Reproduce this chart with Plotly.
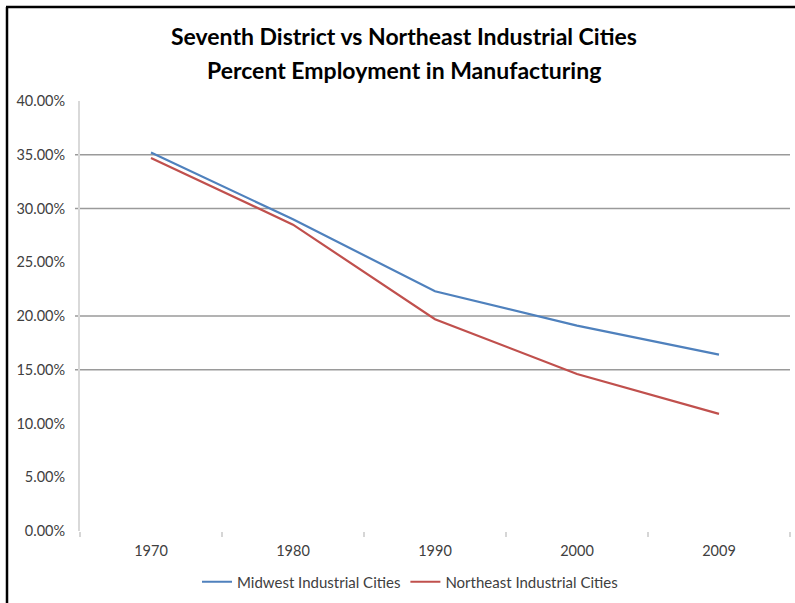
import plotly.graph_objects as go

# Census decades shown on the category axis
years = ["1970", "1980", "1990", "2000", "2009"]

# Share of employment in manufacturing (fraction of total)
midwest = [0.352, 0.290, 0.223, 0.191, 0.164]
northeast = [0.347, 0.285, 0.197, 0.146, 0.109]

# Y-axis labels
y_ticks = [0.0, 0.05, 0.10, 0.15, 0.20, 0.25, 0.30, 0.35, 0.40]
y_tick_text = ["0.00%", "5.00%", "10.00%", "15.00%", "20.00%",
               "25.00%", "30.00%", "35.00%", "40.00%"]

# Horizontal rules drawn across the plot
grid_levels = [0.15, 0.20, 0.30, 0.35]

title_lines = ["Seventh District vs Northeast Industrial Cities",
               "Percent Employment in Manufacturing"]

W, H = 795, 603
L, R, T, B = 80, 5, 101, 72
PW, PH = W - L - R, H - T - B


def px_x(px):
    return (px - L) / PW


def px_y(py):
    return (H - B - py) / PH


FONT = "Lato, Carlito, Calibri, sans-serif"

fig = go.Figure()
fig.add_trace(go.Scatter(x=years, y=midwest, mode="lines",
                         name="Midwest Industrial Cities",
                         line=dict(color="#4F81BD", width=2.2)))
fig.add_trace(go.Scatter(x=years, y=northeast, mode="lines",
                         name="Northeast Industrial Cities",
                         line=dict(color="#C0504D", width=2.2)))

shapes = []
for g in grid_levels:
    shapes.append(dict(type="line", xref="paper", yref="y",
                       x0=px_x(75), x1=1, y0=g, y1=g,
                       line=dict(color="#9a9a9a", width=1.5), layer="below"))
# chart frame (left and top edges)
shapes.append(dict(type="line", xref="paper", yref="paper",
                   x0=px_x(7), x1=px_x(7), y0=px_y(7), y1=px_y(H + 5),
                   line=dict(color="#000000", width=2.5)))
shapes.append(dict(type="line", xref="paper", yref="paper",
                   x0=px_x(6), x1=px_x(W + 5), y0=px_y(7), y1=px_y(7),
                   line=dict(color="#000000", width=2.5)))

# two-line chart title
annotations = []
for text, cy in zip(title_lines, [36, 70]):
    annotations.append(dict(text="<b>" + text + "</b>", showarrow=False,
                            xref="paper", yref="paper",
                            x=px_x(404), y=px_y(cy),
                            xanchor="center", yanchor="middle",
                            font=dict(family=FONT, size=23, color="#000000")))

fig.update_layout(
    width=W, height=H,
    margin=dict(l=L, r=R, t=T, b=B),
    paper_bgcolor="white", plot_bgcolor="white",
    font=dict(family=FONT, color="#404040", size=14),
    xaxis=dict(type="category", range=[-0.5, 4.5], showgrid=False,
               showline=False, zeroline=False,
               ticks="outside", tickson="boundaries", ticklen=5,
               tickcolor="#d6d6d6", tickwidth=1.5,
               ticklabelstandoff=9,
               tickfont=dict(size=14.5, color="#404040")),
    yaxis=dict(range=[0, 0.40], tickvals=y_ticks, ticktext=y_tick_text,
               showgrid=False, zeroline=False, showline=True,
               linecolor="#d9d9d9", linewidth=2, ticks="",
               ticklabelstandoff=10,
               tickfont=dict(size=14.5, color="#404040")),
    legend=dict(orientation="h", x=px_x(410), xanchor="center",
                y=px_y(582), yanchor="middle",
                font=dict(size=15, color="#404040"),
                itemwidth=30, bgcolor="rgba(0,0,0,0)"),
    shapes=shapes,
    annotations=annotations,
    showlegend=True,
)

fig.write_html("out.html")
